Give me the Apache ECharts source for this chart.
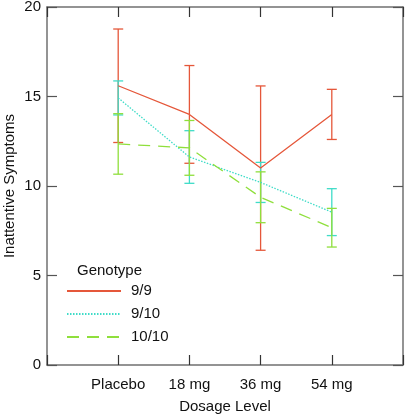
<!DOCTYPE html>
<html>
<head>
<meta charset="utf-8">
<script src="https://cdn.jsdelivr.net/npm/echarts@6/dist/echarts.min.js"></script>
<style>html,body{margin:0;padding:0;background:#fff}#c{width:405px;height:414px}</style>
</head>
<body>
<div id="c"></div>
<script>
const categories = ['Placebo', '18 mg', '36 mg', '54 mg'];
const yTicks = [0, 5, 10, 15, 20];
const seriesNames = ['9/9', '9/10', '10/10'];
const mean99 = [15.6, 14.0, 11.0, 14.0];
const err99 = [3.17, 2.73, 4.59, 1.4];
const mean910 = [14.92, 11.62, 10.2, 8.54];
const err910 = [0.95, 1.47, 1.12, 1.31];
const mean1010 = [12.35, 12.13, 9.37, 7.67];
const err1010 = [1.69, 1.53, 1.42, 1.08];

const colors = ['#e5573a', '#3fdcc8', '#8fdf3c'];
const dashes = ['solid', [1.5, 1.5], [12, 8]];
const means = [mean99, mean910, mean1010];
const errs = [err99, err910, err1010];
const FONT = 'Liberation Sans';
const axisColor = '#707070';

const chart = echarts.init(document.getElementById('c'), null, {renderer: 'canvas'});

const series = [];
means.forEach((m, si) => {
  series.push({
    name: seriesNames[si],
    type: 'line',
    xAxisIndex: 0, yAxisIndex: 0,
    data: m.map((v, i) => [i + 1, v]),
    symbol: 'none',
    lineStyle: {color: colors[si], width: 1.3, type: dashes[si]},
    itemStyle: {color: colors[si]},
    z: 3,
    animation: false
  });
});
means.forEach((m, si) => {
  series.push({
    name: seriesNames[si] + '_err',
    type: 'custom',
    xAxisIndex: 0, yAxisIndex: 0,
    data: m.map((v, i) => [i + 1, v - errs[si][i], v + errs[si][i]]),
    renderItem: function (params, api) {
      const x = api.value(0);
      const lo = api.coord([x, api.value(1)]);
      const hi = api.coord([x, api.value(2)]);
      const hw = 5;
      const st = {stroke: colors[si], lineWidth: 1.3};
      return {
        type: 'group',
        children: [
          {type: 'line', shape: {x1: lo[0], y1: lo[1], x2: hi[0], y2: hi[1]}, style: st},
          {type: 'line', shape: {x1: lo[0] - hw, y1: lo[1], x2: lo[0] + hw, y2: lo[1]}, style: st},
          {type: 'line', shape: {x1: hi[0] - hw, y1: hi[1], x2: hi[0] + hw, y2: hi[1]}, style: st}
        ]
      };
    },
    z: 2,
    animation: false
  });
});

const baseX = {
  type: 'value', min: 0, max: 5, interval: 1,
  axisLine: {show: true, onZero: false, lineStyle: {color: axisColor, width: 1.5}},
  axisTick: {show: true, inside: true, length: 10, lineStyle: {color: '#333', width: 1.2}},
  splitLine: {show: false}
};
const baseY = {
  type: 'value', min: yTicks[0], max: yTicks[yTicks.length - 1], interval: 5,
  axisLine: {show: true, onZero: false, lineStyle: {color: axisColor, width: 1.5}},
  axisTick: {show: true, inside: true, length: 10, lineStyle: {color: '#555', width: 1.2}},
  splitLine: {show: false}
};

chart.setOption({
  animation: false,
  grid: {left: 47, right: 2, top: 7, bottom: 49, containLabel: false, outerBoundsMode: 'none'},
  textStyle: {fontFamily: FONT},
  xAxis: [
    Object.assign({}, baseX, {
      position: 'bottom',
      name: 'Dosage Level', nameLocation: 'middle', nameGap: 34, nameMoveOverlap: false,
      nameTextStyle: {fontFamily: FONT, fontSize: 15, color: '#111'},
      axisLabel: {
        show: true, margin: 12, fontFamily: FONT, fontSize: 15, color: '#111',
        formatter: v => categories[v - 1] || ''
      }
    }),
    Object.assign({}, baseX, {position: 'top', axisLabel: {show: false}})
  ],
  yAxis: [
    Object.assign({}, baseY, {
      position: 'left',
      name: 'Inattentive Symptoms', nameLocation: 'middle', nameGap: 30, nameMoveOverlap: false,
      nameTextStyle: {fontFamily: FONT, fontSize: 15, color: '#111'},
      axisLabel: {show: true, margin: 6, fontFamily: FONT, fontSize: 15, color: '#111'}
    }),
    Object.assign({}, baseY, {position: 'right', axisLabel: {show: false}})
  ],
  legend: {
    data: seriesNames,
    orient: 'vertical',
    left: 66, top: 282, padding: 0,
    itemWidth: 54, itemHeight: 16, itemGap: 5,
    itemStyle: {opacity: 0},
    selectedMode: false,
    textStyle: {fontFamily: FONT, fontSize: 15, color: '#111', padding: [0, 0, 0, 5], lineHeight: 18, height: 18}
  },
  graphic: [{
    type: 'text', left: 77, top: 263,
    style: {text: 'Genotype', font: '15px "Liberation Sans"', fill: '#111'}
  }],
  series: series
});
</script>
</body>
</html>
